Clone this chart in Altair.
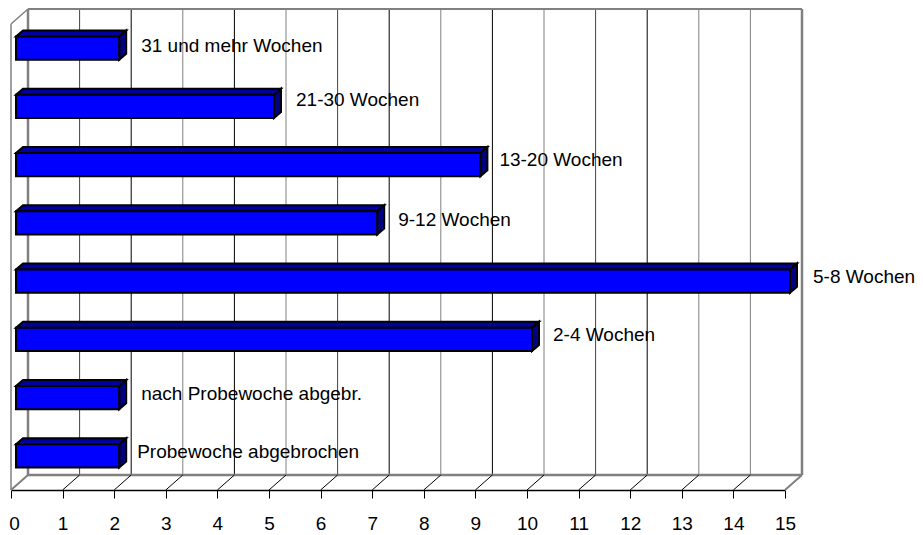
import altair as alt
import pandas as pd

categories = ["Probewoche abgebrochen", "nach Probewoche abgebr.", "2-4 Wochen", "5-8 Wochen",
              "9-12 Wochen", "13-20 Wochen", "21-30 Wochen", "31 und mehr Wochen"]
values = [2, 2, 10, 15, 7, 9, 5, 2]
x_ticks = list(range(16))

# styling constants, px
PXX, PXY = 774 / 15, 466 / 8
WALL_X, WALL_Y = 17 / PXX, 15 / PXY
BAR_X, BAR_Y = 5 / PXX, 5 / PXY
TOP_X, TOP_Y = 7 / PXX, 6 / PXY
HALF = 11.7 / PXY
TOP = 8
FONT = "Liberation Sans"
FS = 19
grid_colors = ["#808080", "#444444", "#000000", "#808080", "#000000", "#808080", "#444444", "#000000",
               "#808080", "#000000", "#808080", "#444444", "#000000", "#808080", "#808080", "#808080"]
label_nudge_x = [18, 22, 21, 23, 21, 19, 22, 22]
label_nudge_y = [4, 4, 4, 4, 3, 5, 6, 2]

x_axis = alt.Axis(
    values=x_ticks, format="d", title=None, grid=False, domainColor="#000000", domainWidth=1.5,
    tickColor="#000000", tickWidth=1, tickSize=8, labelFont=FONT, labelFontSize=FS, labelColor="#000000",
    labelPadding=16, labelFlush=False, labelOverlap=False,
    labelOffset={"condition": {"test": "datum.value === 0", "value": 3}, "value": 0})
x_sc = alt.Scale(domain=[0, 15], nice=False, zero=False)
y_sc = alt.Scale(domain=[0, TOP], nice=False, zero=False)
X = lambda f: alt.X(f, type="quantitative", scale=x_sc, axis=x_axis)
Y = lambda f: alt.Y(f, type="quantitative", scale=y_sc, axis=None)

grid = pd.DataFrame({"x": [v + WALL_X for v in x_ticks], "y": WALL_Y, "y2": TOP + WALL_Y, "c": grid_colors})
grid_l = alt.Chart(grid).mark_rule(strokeWidth=1).encode(X("x"), Y("y"), y2="y2", color=alt.Color("c:N", scale=None))

frame = pd.DataFrame([
    dict(x=WALL_X, x2=15 + WALL_X, y=TOP + WALL_Y, y2=TOP + WALL_Y, w=2),
    dict(x=WALL_X, x2=WALL_X, y=WALL_Y, y2=TOP + WALL_Y, w=2.5),
    dict(x=15 + WALL_X, x2=15 + WALL_X, y=WALL_Y, y2=TOP + WALL_Y, w=2.5),
    dict(x=WALL_X, x2=15 + WALL_X, y=WALL_Y, y2=WALL_Y, w=2.5),
    dict(x=0, x2=0, y=0, y2=TOP, w=1.5),
    dict(x=0, x2=WALL_X, y=TOP, y2=TOP + WALL_Y, w=1.5),
    dict(x=0, x2=WALL_X, y=0, y2=WALL_Y, w=2),
    dict(x=15, x2=15 + WALL_X, y=0, y2=WALL_Y, w=2),
])
frame_l = alt.Chart(frame).mark_rule(color="#808080").encode(
    X("x"), x2="x2", y=Y("y"), y2="y2", strokeWidth=alt.StrokeWidth("w:Q", scale=None))

diag = pd.DataFrame({"x": x_ticks[1:-1], "x2": [v + WALL_X for v in x_ticks[1:-1]], "y": 0, "y2": WALL_Y})
diag_l = alt.Chart(diag).mark_rule(color="#000000", strokeWidth=1).encode(X("x"), x2="x2", y=Y("y"), y2="y2")

rows = []
for i, (c, v) in enumerate(zip(categories, values)):
    mid = i + 0.5 + BAR_Y
    rows.append(dict(i=i, cat=c, x0=BAR_X, x1=v + BAR_X, lo=mid - HALF, hi=mid + HALF,
                     lx=v + BAR_X + label_nudge_x[i] / PXX, ly=mid + label_nudge_y[i] / PXY))
df = pd.DataFrame(rows)

front = alt.Chart(df).mark_rect(color="#0000FF", stroke="#000000", strokeWidth=2).encode(X("x0"), x2="x1", y=Y("lo"), y2="hi")

top_rows, side_rows = [], []
for r in rows:
    top_rows += [dict(i=r["i"], y=r["hi"], x=r["x0"], x2=r["x1"]),
                 dict(i=r["i"], y=r["hi"] + TOP_Y, x=r["x0"] + TOP_X, x2=r["x1"] + TOP_X)]
    side_rows += [dict(i=r["i"], x=r["x1"], y=r["lo"], y2=r["hi"]),
                  dict(i=r["i"], x=r["x1"] + TOP_X, y=r["lo"] + TOP_Y, y2=r["hi"] + TOP_Y)]
top_l = alt.Chart(pd.DataFrame(top_rows)).mark_area(orient="horizontal", color="#0000A0", stroke="#000000", strokeWidth=2).encode(
    x=X("x"), x2="x2", y=alt.Y("y", type="quantitative", scale=y_sc, axis=None, sort=None), detail="i:N")
side_l = alt.Chart(pd.DataFrame(side_rows)).mark_area(orient="vertical", color="#000080", stroke="#000000", strokeWidth=2).encode(
    x=X("x"), y=Y("y"), y2="y2", detail="i:N")

text_l = alt.Chart(df).mark_text(align="left", baseline="middle", font=FONT, fontSize=FS, color="#000000").encode(
    X("lx"), Y("ly"), text="cat:N")

chart = alt.layer(grid_l, frame_l, diag_l, top_l, side_l, front, text_l).properties(
    width=774, height=466, autosize=alt.AutoSizeParams(type="none"),
    padding={"left": 3, "top": 16, "right": 130, "bottom": 43}, background="white"
).configure_view(stroke=None)

chart.save("out.html", embed_options={"renderer": "svg", "actions": False})
